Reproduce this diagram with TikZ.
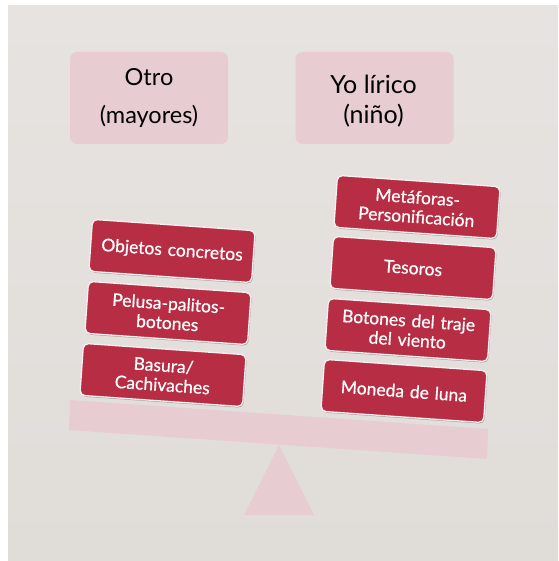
\documentclass[tikz,border=0pt]{standalone}
\usepackage{fontspec}
\setmainfont{Lato}
\newfontfamily\boxfont[FakeBold=0.6]{Lato}
\usetikzlibrary{shadows}
\definecolor{bgtop}{HTML}{E6E3E0}
\definecolor{bgbot}{HTML}{E0DDD9}
\definecolor{pinklight}{HTML}{E7CDD1}
\definecolor{crimson}{HTML}{B72D44}
\begin{document}
\begin{tikzpicture}[x=1pt,y=-1pt,
  headbox/.style={fill=pinklight, rounded corners=7pt, minimum width=158pt, minimum height=92pt,
    align=center, text=black, inner sep=0pt},
  itembox/.style={fill=crimson, draw=white!92!crimson, line width=1.3pt, rounded corners=5pt,
    minimum width=163pt, minimum height=52pt, text width=158pt, inner sep=0pt, align=center,
    text=white, font=\boxfont\fontsize{17.5}{19.5}\selectfont, rotate=-4,
    drop shadow={shadow xshift=0.8pt, shadow yshift=-1.2pt, opacity=0.3, fill=black}},
  scalepart/.style={fill=pinklight}
]
\useasboundingbox (0,0) rectangle (558,561);
\fill[white] (0,0) rectangle (558,561);
\shade[top color=bgtop, bottom color=bgbot] (8,6) rectangle (558,561);
% scale
\fill[scalepart] (279,445) -- (314,515) -- (244,515) -- cycle;
\fill[scalepart] (70,400) -- (488,429) -- (487,459) -- (69,430) -- cycle;
% headers
\node[headbox, font=\fontsize{23.5}{38}\selectfont] (otro) at (149,98) {Otro\\(mayores)};
\node[headbox, minimum height=92pt] (yo) at (374.5,98) {};
\node[font=\fontsize{25}{30}\selectfont, align=center, inner sep=0pt] (yotext) at (373.5,101) {Yo lírico\\(niño)};
% left items
\node[itembox] (l1) at (172,251) {Objetos concretos};
\node[itembox] (l2) at (168,313) {Pelusa-palitos-\\botones};
\node[itembox] (l3) at (163,375) {Basura/\\Cachivaches};
% right items
\node[itembox] (r1) at (417,207) {Metáforas-\\Personificación};
\node[itembox] (r2) at (413,268) {Tesoros};
\node[itembox] (r3) at (408,330) {Botones del traje\\del viento};
\node[itembox] (r4) at (404,391) {Moneda de luna};
\end{tikzpicture}
\end{document}
